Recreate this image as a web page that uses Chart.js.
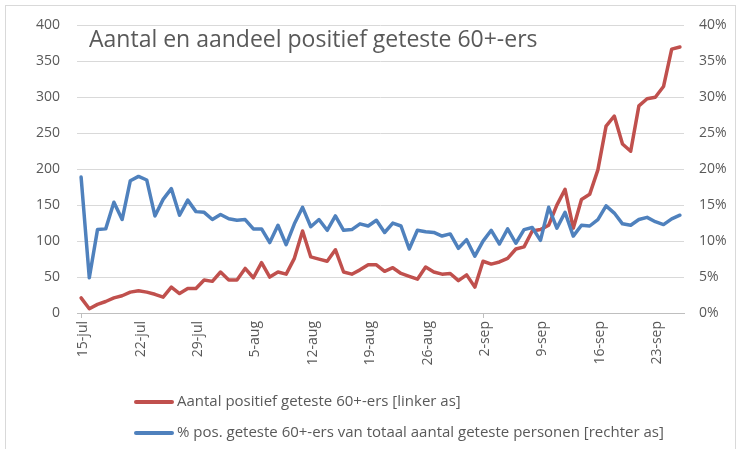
<!DOCTYPE html>
<html>
<head>
<meta charset="utf-8">
<script src="https://cdn.jsdelivr.net/npm/chart.js@4/dist/chart.umd.min.js"></script>
<style>
  html, body { margin: 0; padding: 0; background: #fff; }
  #wrap { width: 744px; height: 449px; }
</style>
</head>
<body>
<div id="wrap"><canvas id="myChart" width="744" height="449"></canvas></div>
<script>
const days = [
  "15-jul", "16-jul", "17-jul", "18-jul", "19-jul", "20-jul", "21-jul", "22-jul", "23-jul", "24-jul",
  "25-jul", "26-jul", "27-jul", "28-jul", "29-jul", "30-jul", "31-jul",
  "1-aug", "2-aug", "3-aug", "4-aug", "5-aug", "6-aug", "7-aug", "8-aug", "9-aug", "10-aug",
  "11-aug", "12-aug", "13-aug", "14-aug", "15-aug", "16-aug", "17-aug", "18-aug", "19-aug", "20-aug",
  "21-aug", "22-aug", "23-aug", "24-aug", "25-aug", "26-aug", "27-aug", "28-aug", "29-aug", "30-aug", "31-aug",
  "1-sep", "2-sep", "3-sep", "4-sep", "5-sep", "6-sep", "7-sep", "8-sep", "9-sep", "10-sep",
  "11-sep", "12-sep", "13-sep", "14-sep", "15-sep", "16-sep", "17-sep", "18-sep", "19-sep", "20-sep",
  "21-sep", "22-sep", "23-sep", "24-sep", "25-sep", "26-sep",
];

// aantal positief geteste 60+-ers (linker as)
const aantal = [
  21, 6, 12, 16, 21, 24, 29, 31, 29, 26,
  22, 36, 27, 34, 34, 46, 44, 57, 46, 46,
  62, 49, 70, 50, 57, 54, 76, 114, 78, 75,
  72, 88, 57, 54, 60, 67, 67, 58, 63, 55,
  51, 47, 64, 57, 54, 55, 45, 53, 36, 72,
  68, 71, 76, 89, 92, 114, 116, 122, 150, 172,
  118, 158, 165, 199, 260, 274, 235, 225, 288, 298,
  300, 315, 367, 370,
];

// % positief van totaal geteste personen (rechter as)
const aandeel = [
  18.9, 4.9, 11.6, 11.7, 15.4, 13.0, 18.4, 19.0, 18.5, 13.5,
  15.8, 17.3, 13.6, 15.7, 14.1, 14.0, 13.0, 13.7, 13.1, 12.9,
  13.0, 11.7, 11.7, 9.8, 12.2, 9.5, 12.4, 14.7, 12.0, 13.0,
  11.5, 13.5, 11.5, 11.6, 12.4, 12.1, 12.9, 11.2, 12.5, 12.1,
  8.9, 11.5, 11.3, 11.2, 10.7, 11.0, 9.0, 10.2, 7.9, 10.0,
  11.5, 9.6, 11.7, 9.7, 11.6, 11.9, 10.1, 14.7, 11.8, 14.0,
  10.7, 12.2, 12.1, 13.0, 14.9, 13.9, 12.4, 12.2, 13.0, 13.3,
  12.7, 12.3, 13.1, 13.6,
];

const titleText = "Aantal en aandeel positief geteste 60+-ers";
const seriesNames = [
  "Aantal positief geteste 60+-ers [linker as]",
  "% pos. geteste 60+-ers van totaal aantal geteste personen [rechter as]",
];

const red = "#C0504D";
const blue = "#4F81BD";
const textGrey = "#595959";
const font = "'Open Sans', 'Noto Sans', sans-serif";

const overlay = {
  id: "overlay",
  afterDraw(chart) {
    const ctx = chart.ctx;
    ctx.save();
    // kader rond de grafiek (onderkant valt buiten beeld)
    ctx.strokeStyle = "#d9d9d9";
    ctx.lineWidth = 1;
    ctx.strokeRect(5.5, 5.5, 730, 460);

    // titel in het plotvlak
    ctx.fillStyle = textGrey;
    ctx.font = "23px " + font;
    ctx.textBaseline = "alphabetic";
    ctx.textAlign = "left";
    ctx.fillText(titleText, 89, 47);

    // legenda onderaan, links uitgelijnd
    ctx.font = "15px " + font;
    ctx.textBaseline = "middle";
    const rows = [402, 433];
    chart.data.datasets.forEach((ds, i) => {
      const y = rows[i];
      ctx.strokeStyle = ds.borderColor;
      ctx.lineWidth = 4;
      ctx.lineCap = "round";
      ctx.beginPath();
      ctx.moveTo(136, y);
      ctx.lineTo(172, y);
      ctx.stroke();
      ctx.fillStyle = textGrey;
      ctx.fillText(ds.label, 177, y);
    });
    ctx.restore();
  },
};

function drawGraph() {
  const ctx = document.getElementById("myChart").getContext("2d");
  new Chart(ctx, {
    type: "line",
    data: {
      labels: days,
      datasets: [
        {
          label: seriesNames[0],
          data: aantal,
          yAxisID: "y",
          borderColor: red,
          backgroundColor: red,
          order: 1,
        },
        {
          label: seriesNames[1],
          data: aandeel,
          yAxisID: "y1",
          borderColor: blue,
          backgroundColor: blue,
          order: 0,
        },
      ],
    },
    options: {
      responsive: false,
      animation: false,
      devicePixelRatio: 1,
      layout: { padding: { top: 19, left: 0, right: 0, bottom: 0 } },
      elements: {
        point: { radius: 0 },
        line: { borderWidth: 3.5, tension: 0, borderJoinStyle: "round", borderCapStyle: "round" },
      },
      plugins: {
        legend: { display: false },
        tooltip: { enabled: false },
      },
      scales: {
        x: {
          offset: true,
          afterFit: (scale) => { scale.height = 136; },
          grid: {
            offset: false,
            drawOnChartArea: false,
            drawTicks: true,
            tickLength: 5,
            color: (c) => (c.index % 7 === 0 ? "#bfbfbf" : "rgba(0,0,0,0)"),
          },
          border: { color: "#bfbfbf", width: 1 },
          ticks: {
            autoSkip: false,
            maxRotation: 90,
            minRotation: 90,
            padding: 3,
            labelOffset: 2,
            color: textGrey,
            font: { family: font, size: 14 },
            callback: function (val, index) {
              return index % 7 === 0 ? this.getLabelForValue(val) : null;
            },
          },
        },
        y: {
          position: "left",
          min: 0,
          max: 400,
          afterFit: (scale) => { scale.width = 77; },
          grid: { color: "#d9d9d9", drawTicks: false, lineWidth: 1 },
          border: { display: false },
          ticks: {
            stepSize: 50,
            padding: 17,
            color: textGrey,
            font: { family: font, size: 14 },
          },
        },
        y1: {
          position: "right",
          min: 0,
          max: 40,
          afterFit: (scale) => { scale.width = 60; },
          grid: { display: false, drawTicks: false },
          border: { display: false },
          ticks: {
            stepSize: 5,
            padding: 15,
            color: textGrey,
            font: { family: font, size: 14 },
            callback: (v) => v + "%",
          },
        },
      },
    },
    plugins: [overlay],
  });
}

drawGraph();
</script>
</body>
</html>
